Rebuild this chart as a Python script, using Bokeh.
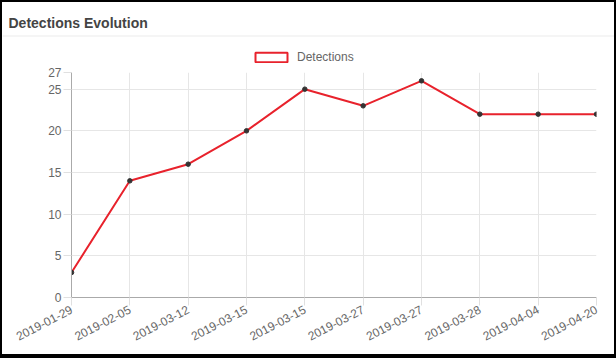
from bokeh.plotting import figure
from bokeh.models import (FixedTicker, Range1d, Legend, LegendItem, ColumnDataSource, Column)
from bokeh.core.properties import value
from bokeh.embed import file_html
from bokeh.resources import INLINE

dates = ["2019-01-29", "2019-02-05", "2019-03-12", "2019-03-15", "2019-03-15",
         "2019-03-27", "2019-03-27", "2019-03-28", "2019-04-04", "2019-04-20"]
detections = [3, 14, 16, 20, 25, 23, 26, 22, 22, 22]
y_ticks = [0, 5, 10, 15, 20, 25, 27]
title_text = "Detections Evolution"
series_name = "Detections"

FONT = "Liberation Sans"
RED = "#e8222c"

xs = list(range(len(dates)))

# header: title, separator and legend
HW, HH = 612, 62
hdr = figure(width=HW, height=HH, output_backend="svg", toolbar_location=None,
             x_range=Range1d(0, HW), y_range=Range1d(0, HH),
             min_border=0, outline_line_color=None, frame_align=False)
hdr.axis.visible = False
hdr.grid.visible = False
hdr.text(x=[6], y=[HH - 20], text=[title_text], text_font=value(FONT), text_font_size="14px",
         text_font_style="bold", text_color="#444444", text_baseline="alphabetic")
hdr.segment(x0=[0], y0=[HH - 33.5], x1=[HW], y1=[HH - 33.5], line_color="#ebebeb", line_width=1)

box = hdr.rect(x=[float("nan")], y=[float("nan")], width=1, height=1,
               fill_color="white", line_color=RED, line_width=2)
legend = Legend(items=[LegendItem(label=series_name, renderers=[box])],
                orientation="horizontal", location=(249, 0),
                glyph_width=40, glyph_height=12, label_text_font=FONT,
                label_text_font_size="12px", label_text_color="#666666",
                border_line_color=None, background_fill_alpha=0,
                padding=0, margin=0, label_standoff=6, label_height=12)
hdr.add_layout(legend)

# chart
p = figure(width=612, height=290, output_backend="svg", toolbar_location=None,
           x_range=Range1d(0, len(dates) - 1), y_range=Range1d(0, max(y_ticks)),
           min_border_left=69, min_border_right=18, min_border_top=8, min_border_bottom=57,
           outline_line_color=None, frame_align=False)

src = ColumnDataSource(dict(x=xs, y=detections))
p.line("x", "y", source=src, line_color=RED, line_width=2)
p.scatter("x", "y", source=src, size=4.5, fill_color="#333333", line_color="#333333")

p.xaxis.ticker = FixedTicker(ticks=xs)
p.xaxis.major_label_overrides = {i: d for i, d in enumerate(dates)}
p.xaxis.major_label_orientation = 0.48
p.yaxis.ticker = FixedTicker(ticks=y_ticks)
p.xgrid.ticker = FixedTicker(ticks=xs)
p.ygrid.ticker = FixedTicker(ticks=y_ticks)

for ax in (p.xaxis, p.yaxis):
    ax.axis_line_color = "#aaaaaa"
    ax.major_tick_line_color = "#e0e0e0"
    ax.major_tick_out = 8
    ax.major_tick_in = 0
    ax.minor_tick_line_color = None
    ax.major_label_text_font = FONT
    ax.major_label_text_font_size = "12px"
    ax.major_label_text_color = "#666666"
    ax.major_label_standoff = 2
p.xaxis.major_label_standoff = 3

p.grid.grid_line_color = "#e6e6e6"

inner = Column(hdr, p, spacing=0, margin=(2, 2, 4, 2), styles={"background-color": "white"})
layout = Column(inner, styles={"background-color": "black"}, spacing=0)

open("out.html", "w").write(file_html(layout, INLINE))
